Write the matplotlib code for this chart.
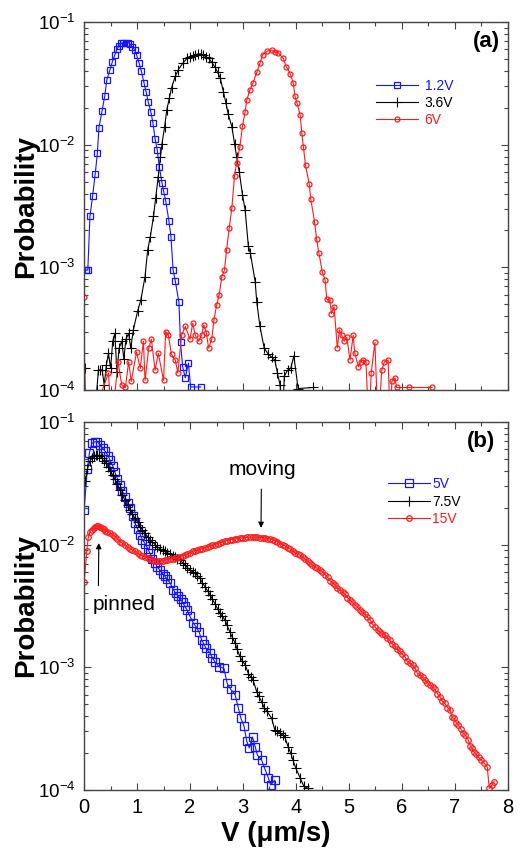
import matplotlib
matplotlib.use("Agg")
import matplotlib.pyplot as plt
from matplotlib.ticker import MultipleLocator, LogLocator

plt.rcParams['font.family'] = ['Liberation Sans', 'DejaVu Sans']
plt.rcParams['mathtext.fontset'] = 'custom'
plt.rcParams['mathtext.rm'] = 'Liberation Sans'
plt.rcParams['mathtext.it'] = 'Liberation Sans:italic'
plt.rcParams['mathtext.bf'] = 'Liberation Sans:bold'

# ---- panel (a) ----
v_a12 = [0.03, 0.07, 0.11, 0.16, 0.21, 0.25, 0.28, 0.34, 0.39, 0.43, 0.49, 0.53, 0.58, 0.62,
         0.66, 0.70, 0.74, 0.79, 0.83, 0.87, 0.91, 0.96, 0.99, 1.04, 1.08, 1.13, 1.17, 1.21,
         1.26, 1.30, 1.34, 1.38, 1.42, 1.47, 1.50, 1.54, 1.60, 1.64, 1.68, 1.72, 1.79, 1.82,
         1.86, 1.91, 1.97, 2.01, 2.20]
p_a12 = [9.5e-4, 9.5e-4, 2.6e-3, 3.8e-3, 5.8e-3, 8.5e-3, 1.38e-2, 1.9e-2, 2.5e-2, 3.4e-2,
         4.1e-2, 4.7e-2, 5.4e-2, 6.0e-2, 6.4e-2, 6.7e-2, 6.8e-2, 6.8e-2, 6.8e-2, 6.6e-2,
         6.3e-2, 5.9e-2, 5.4e-2, 4.6e-2, 4.0e-2, 3.2e-2, 2.7e-2, 2.24e-2, 1.86e-2, 1.5e-2,
         1.12e-2, 9.1e-3, 6.6e-3, 4.9e-3, 4.2e-3, 3.5e-3, 2.4e-3, 1.78e-3, 9.5e-4, 7.8e-4,
         5.2e-4, 2.45e-4, 1.55e-4, 1.26e-4, 1.66e-4, 1.06e-4, 1.06e-4]

v_a36 = [0.01, 0.03, 0.20, 0.24, 0.27, 0.30, 0.34, 0.38, 0.42, 0.46, 0.50, 0.54, 0.58, 0.62,
         0.66, 0.71, 0.75, 0.79, 0.84, 0.88, 0.93, 1.01, 1.07, 1.15, 1.20, 1.25, 1.31, 1.35,
         1.40, 1.44, 1.47, 1.52, 1.56, 1.61, 1.65, 1.72, 1.78, 1.86, 1.94, 2.00, 2.05, 2.10,
         2.15, 2.20, 2.25, 2.30, 2.35, 2.41, 2.47, 2.52, 2.57, 2.63, 2.68, 2.72, 2.79, 2.84,
         2.88, 2.93, 2.99, 3.04, 3.10, 3.14, 3.23, 3.26, 3.32, 3.40, 3.48, 3.54, 3.60, 3.65,
         3.70, 3.74, 3.78, 3.84, 3.90, 3.96, 4.04, 4.33]
p_a36 = [1.5e-4, 5e-5, 5e-5, 1.0e-4, 1.46e-4, 1.46e-4, 1.46e-4, 1.1e-4, 1.6e-4, 2.0e-4,
         1.5e-4, 2.5e-4, 2.9e-4, 1.4e-4, 2.2e-4, 2.5e-4, 1.8e-4, 2.6e-4, 2.9e-4, 2.2e-4,
         3.1e-4, 4.4e-4, 5.4e-4, 8.4e-4, 1.39e-3, 1.78e-3, 2.6e-3, 3.66e-3, 5.5e-3, 7.9e-3,
         1.02e-2, 1.4e-2, 1.92e-2, 2.4e-2, 2.9e-2, 3.6e-2, 4.1e-2, 4.6e-2, 5.05e-2, 5.2e-2,
         5.3e-2, 5.4e-2, 5.5e-2, 5.5e-2, 5.4e-2, 5.2e-2, 5.06e-2, 4.7e-2, 4.3e-2, 3.9e-2,
         3.5e-2, 2.7e-2, 2.17e-2, 1.78e-2, 1.4e-2, 1.02e-2, 7.9e-3, 6.0e-3, 3.9e-3, 2.95e-3,
         1.5e-3, 1.3e-3, 7.6e-4, 5.2e-4, 3.3e-4, 2.2e-4, 1.95e-4, 1.86e-4, 1.76e-4, 1.38e-4,
         1.1e-4, 5e-5, 1.3e-4, 1.45e-4, 1.5e-4, 1.9e-4, 1.03e-4, 1.05e-4]

v_a6 = [0.00, 0.02, 0.46, 0.52, 0.64, 0.71, 0.78, 0.84, 0.89, 0.99, 1.06, 1.12, 1.15, 1.22,
        1.27, 1.34, 1.40, 1.50, 1.54, 1.59, 1.65, 1.72, 1.77, 1.84, 1.91, 2.00, 2.05, 2.10,
        2.16, 2.22, 2.26, 2.31, 2.35, 2.41, 2.45, 2.50, 2.55, 2.60, 2.65, 2.69, 2.74, 2.79,
        2.84, 2.88, 2.94, 2.99, 3.04, 3.07, 3.13, 3.19, 3.26, 3.32, 3.37, 3.46, 3.54, 3.60,
        3.67, 3.76, 3.82, 3.89, 3.95, 3.98, 4.02, 4.08, 4.11, 4.14, 4.18, 4.25, 4.28, 4.35,
        4.39, 4.43, 4.50, 4.55, 4.58, 4.64, 4.67, 4.72, 4.78, 4.82, 4.86, 4.91, 4.96, 5.02,
        5.08, 5.11, 5.18, 5.22, 5.27, 5.32, 5.38, 5.42, 5.49, 5.55, 5.62, 5.67, 5.74, 5.78,
        5.81, 5.87, 5.90, 6.14, 6.57]
p_a6 = [5.7e-4, 4e-5, 1.38e-4, 5e-5, 1.7e-4, 1.1e-4, 1.05e-4, 1.7e-4, 1.18e-4, 2.05e-4,
        1.5e-4, 2.5e-4, 1.2e-4, 2.2e-4, 2.6e-4, 1.45e-4, 2.0e-4, 1.2e-4, 3.0e-4, 2.8e-4,
        1.95e-4, 1.76e-4, 1.38e-4, 2.8e-4, 3.3e-4, 2.6e-4, 3.5e-4, 2.8e-4, 2.5e-4, 2.8e-4,
        3.4e-4, 2.9e-4, 2.2e-4, 2.6e-4, 3.7e-4, 4.9e-4, 6.0e-4, 8.4e-4, 9.5e-4, 1.39e-3,
        2.1e-3, 3.07e-3, 5.6e-3, 7.1e-3, 9.6e-3, 1.42e-2, 1.86e-2, 2.3e-2, 2.8e-2, 3.2e-2,
        3.9e-2, 4.6e-2, 5.4e-2, 5.8e-2, 5.9e-2, 5.7e-2, 5.6e-2, 5.06e-2, 4.3e-2, 3.8e-2,
        3.16e-2, 2.5e-2, 2.17e-2, 1.75e-2, 1.24e-2, 9.6e-3, 6.8e-3, 4.8e-3, 3.6e-3, 2.36e-3,
        1.7e-3, 1.32e-3, 9.1e-4, 7.9e-4, 5.5e-4, 5.4e-4, 4.2e-4, 4.8e-4, 2.2e-4, 3.1e-4,
        2.8e-4, 2.5e-4, 2.7e-4, 1.76e-4, 2.8e-4, 2.0e-4, 1.55e-4, 1.7e-4, 1.76e-4, 1.7e-4,
        5e-5, 1.38e-4, 2.45e-4, 5e-5, 1.45e-4, 1.7e-4, 1.76e-4, 5e-5, 1.18e-4, 1.26e-4,
        1.05e-4, 1.05e-4, 1.05e-4]

# ---- panel (b) ----
v_b5 = [0.00, 0.06, 0.10, 0.145, 0.21, 0.25, 0.30, 0.35, 0.40, 0.45, 0.49, 0.54, 0.58, 0.63,
        0.68, 0.72, 0.77, 0.82, 0.87, 0.92, 0.96, 1.01, 1.06, 1.10, 1.15, 1.20, 1.245, 1.29,
        1.34, 1.38, 1.43, 1.48, 1.53, 1.57, 1.62, 1.685, 1.73, 1.78, 1.82, 1.86, 1.90, 1.94,
        2.00, 2.06, 2.11, 2.17, 2.22, 2.26, 2.30, 2.38, 2.42, 2.47, 2.55, 2.64, 2.70, 2.77,
        2.85, 2.91, 2.96, 3.02, 3.07, 3.12, 3.18, 3.23, 3.27, 3.35, 3.42, 3.48, 3.52, 3.60,
        3.62]
p_b5 = [1.92e-2, 4.1e-2, 5.6e-2, 6.7e-2, 6.9e-2, 6.9e-2, 6.5e-2, 6.1e-2, 5.75e-2, 5.3e-2,
        4.9e-2, 4.4e-2, 3.9e-2, 3.45e-2, 3.07e-2, 2.75e-2, 2.45e-2, 2.2e-2, 2.0e-2, 1.7e-2,
        1.49e-2, 1.35e-2, 1.2e-2, 1.1e-2, 1.02e-2, 9.3e-3, 8.5e-3, 7.7e-3, 7.1e-3, 6.6e-3,
        6.2e-3, 5.8e-3, 5.5e-3, 5.2e-3, 4.9e-3, 4.3e-3, 4.0e-3, 3.8e-3, 3.6e-3, 3.4e-3,
        3.15e-3, 2.95e-3, 2.6e-3, 2.3e-3, 2.15e-3, 1.95e-3, 1.67e-3, 1.55e-3, 1.43e-3,
        1.3e-3, 1.2e-3, 1.11e-3, 1.01e-3, 9.8e-4, 7.4e-4, 6.6e-4, 6.0e-4, 4.7e-4, 3.85e-4,
        3.3e-4, 2.5e-4, 2.2e-4, 2.7e-4, 2.26e-4, 1.93e-4, 1.76e-4, 1.46e-4, 1.25e-4, 1.1e-4,
        1.2e-4, 5e-5]

v_b75 = [0.02, 0.06, 0.11, 0.15, 0.18, 0.22, 0.25, 0.29, 0.33, 0.37, 0.415, 0.45, 0.49, 0.54,
         0.585, 0.63, 0.68, 0.72, 0.77, 0.82, 0.87, 0.91, 0.96, 1.01, 1.06, 1.10, 1.15, 1.20,
         1.245, 1.29, 1.34, 1.38, 1.43, 1.48, 1.53, 1.57, 1.62, 1.67, 1.72, 1.76, 1.81, 1.86,
         1.905, 1.95, 2.00, 2.05, 2.09, 2.14, 2.19, 2.23, 2.28, 2.33, 2.38, 2.42, 2.47, 2.52,
         2.57, 2.61, 2.66, 2.70, 2.75, 2.80, 2.85, 2.89, 2.94, 2.99, 3.04, 3.10, 3.15, 3.19,
         3.26, 3.30, 3.35, 3.40, 3.45, 3.54, 3.60, 3.65, 3.70, 3.75, 3.79, 3.85, 3.90, 3.94,
         4.00, 4.08, 4.15, 4.23]
p_b75 = [3.3e-2, 4.1e-2, 4.8e-2, 5.1e-2, 5.25e-2, 5.35e-2, 5.4e-2, 5.25e-2, 5.1e-2, 4.8e-2,
         4.6e-2, 4.3e-2, 4.0e-2, 3.7e-2, 3.4e-2, 3.1e-2, 2.8e-2, 2.55e-2, 2.3e-2, 2.1e-2,
         1.92e-2, 1.78e-2, 1.64e-2, 1.52e-2, 1.4e-2, 1.32e-2, 1.24e-2, 1.16e-2, 1.1e-2,
         1.05e-2, 1.0e-2, 9.6e-3, 9.3e-3, 9.0e-3, 8.8e-3, 8.6e-3, 8.4e-3, 8.1e-3, 7.9e-3,
         7.7e-3, 7.5e-3, 7.1e-3, 6.8e-3, 6.5e-3, 6.2e-3, 6.0e-3, 5.85e-3, 5.6e-3, 5.3e-3,
         4.9e-3, 4.55e-3, 4.2e-3, 3.9e-3, 3.6e-3, 3.3e-3, 3.0e-3, 2.75e-3, 2.6e-3, 2.43e-3,
         2.2e-3, 1.95e-3, 1.75e-3, 1.58e-3, 1.4e-3, 1.23e-3, 1.12e-3, 1.05e-3, 8.9e-4, 8.3e-4,
         7.9e-4, 6.3e-4, 5.8e-4, 5.25e-4, 4.7e-4, 4.4e-4, 3.85e-4, 3.1e-4, 3.0e-4, 2.9e-4,
         2.8e-4, 2.7e-4, 2.26e-4, 2.0e-4, 1.76e-4, 1.5e-4, 1.25e-4, 1.07e-4, 1.03e-4]

v_b15 = [0.00, 0.05, 0.08, 0.11, 0.145, 0.18, 0.21, 0.24, 0.27, 0.30, 0.33, 0.37, 0.40, 0.44,
         0.49, 0.54, 0.585, 0.63, 0.68, 0.72, 0.77, 0.82, 0.87, 0.91, 0.96, 1.01, 1.06, 1.10,
         1.15, 1.20, 1.245, 1.29, 1.34, 1.38, 1.43, 1.48, 1.53, 1.57, 1.62, 1.67, 1.72, 1.76,
         1.81, 1.86, 1.905, 1.95, 2.00, 2.05, 2.09, 2.14, 2.19, 2.23, 2.28, 2.33, 2.38, 2.42,
         2.47, 2.52, 2.57, 2.61, 2.66, 2.70, 2.75, 2.80, 2.85, 2.89, 2.94, 2.99, 3.04, 3.08,
         3.13, 3.18, 3.23, 3.27, 3.32, 3.37, 3.42, 3.46, 3.51, 3.56, 3.60, 3.65, 3.70, 3.75,
         3.79, 3.84, 3.89, 3.94, 3.98, 4.03, 4.08, 4.13, 4.17, 4.22, 4.26, 4.31, 4.36, 4.40,
         4.45, 4.50, 4.55, 4.60, 4.64, 4.69, 4.74, 4.78, 4.83, 4.88, 4.92, 4.97, 5.02, 5.06,
         5.11, 5.16, 5.21, 5.25, 5.30, 5.35, 5.40, 5.44, 5.49, 5.54, 5.58, 5.63, 5.68, 5.72,
         5.77, 5.82, 5.87, 5.91, 5.96, 6.01, 6.06, 6.10, 6.15, 6.20, 6.25, 6.29, 6.34, 6.39,
         6.43, 6.48, 6.53, 6.58, 6.62, 6.67, 6.72, 6.76, 6.81, 6.86, 6.91, 6.95, 6.98, 7.03,
         7.06, 7.11, 7.16, 7.20, 7.25, 7.29, 7.32, 7.36, 7.40, 7.45, 7.50, 7.55, 7.61, 7.65,
         7.70, 7.74]
p_b15 = [5.0e-3, 8.8e-3, 1.16e-2, 1.27e-2, 1.32e-2, 1.37e-2, 1.4e-2, 1.41e-2, 1.42e-2, 1.39e-2,
         1.36e-2, 1.33e-2, 1.29e-2, 1.27e-2, 1.24e-2, 1.2e-2, 1.16e-2, 1.11e-2, 1.06e-2,
         1.03e-2, 1.0e-2, 9.6e-3, 9.3e-3, 9.0e-3, 8.8e-3, 8.5e-3, 8.2e-3, 8.1e-3, 8.0e-3,
         7.8e-3, 7.6e-3, 7.5e-3, 7.4e-3, 7.35e-3, 7.35e-3, 7.4e-3, 7.5e-3, 7.55e-3, 7.6e-3,
         7.7e-3, 7.8e-3, 7.9e-3, 8.0e-3, 8.1e-3, 8.2e-3, 8.4e-3, 8.6e-3, 8.8e-3, 8.9e-3,
         9.0e-3, 9.2e-3, 9.3e-3, 9.4e-3, 9.6e-3, 9.8e-3, 9.9e-3, 1.0e-2, 1.02e-2, 1.04e-2,
         1.05e-2, 1.07e-2, 1.08e-2, 1.1e-2, 1.1e-2, 1.11e-2, 1.12e-2, 1.13e-2, 1.13e-2,
         1.14e-2, 1.15e-2, 1.15e-2, 1.15e-2, 1.15e-2, 1.15e-2, 1.14e-2, 1.14e-2, 1.13e-2,
         1.12e-2, 1.11e-2, 1.1e-2, 1.08e-2, 1.06e-2, 1.02e-2, 1.0e-2, 9.8e-3, 9.4e-3, 9.2e-3,
         8.9e-3, 8.6e-3, 8.4e-3, 8.2e-3, 7.9e-3, 7.6e-3, 7.3e-3, 7.1e-3, 6.8e-3, 6.6e-3,
         6.4e-3, 6.2e-3, 6.0e-3, 5.7e-3, 5.4e-3, 5.1e-3, 4.9e-3, 4.7e-3, 4.4e-3, 4.3e-3,
         4.1e-3, 3.95e-3, 3.7e-3, 3.55e-3, 3.4e-3, 3.25e-3, 3.1e-3, 2.95e-3, 2.8e-3, 2.7e-3,
         2.55e-3, 2.45e-3, 2.25e-3, 2.15e-3, 2.0e-3, 1.95e-3, 1.88e-3, 1.84e-3, 1.72e-3,
         1.67e-3, 1.55e-3, 1.48e-3, 1.4e-3, 1.35e-3, 1.28e-3, 1.22e-3, 1.12e-3, 1.08e-3,
         1.04e-3, 9.8e-4, 9.0e-4, 8.7e-4, 8.3e-4, 7.9e-4, 7.5e-4, 7.2e-4, 6.9e-4, 6.6e-4,
         6.1e-4, 5.75e-4, 5.3e-4, 5.1e-4, 4.7e-4, 4.5e-4, 3.9e-4, 3.85e-4, 3.5e-4, 3.4e-4,
         3.15e-4, 2.9e-4, 2.8e-4, 2.57e-4, 2.3e-4, 2.2e-4, 2.05e-4, 1.95e-4, 1.85e-4, 1.75e-4,
         1.66e-4, 1.55e-4, 1.03e-4, 1.1e-4, 1.17e-4]

labels_a = ["1.2V", "3.6V", "6V"]
labels_b = ["5V", "7.5V", "15V"]

BLUE = "#1414ff"
RED = "#ff1a1a"


def style_axis(ax):
    ax.set_yscale("log")
    ax.set_xlim(0, 8)
    ax.set_ylim(1e-4, 1e-1)
    ax.xaxis.set_major_locator(MultipleLocator(1))
    ax.xaxis.set_minor_locator(MultipleLocator(0.5))
    ax.yaxis.set_major_locator(LogLocator(base=10))
    ax.yaxis.set_minor_locator(LogLocator(base=10, subs=range(2, 10)))
    ax.tick_params(which="both", direction="in", top=True, right=True,
                   color="#444444", width=0.8)
    ax.tick_params(which="major", length=5, labelsize=14.5, pad=6)
    ax.tick_params(axis="y", which="major", labelsize=13.5, pad=6)
    ax.tick_params(which="minor", length=3)
    for s in ax.spines.values():
        s.set_color("#444444")
        s.set_linewidth(1.0)
    ax.set_ylabel("Probability", fontsize=20, fontweight="bold")
    ax.yaxis.set_label_coords(-0.107, 0.5)


fig = plt.figure(figsize=(5.29, 8.48), dpi=100)
ax1 = fig.add_axes([0.159, 0.540, 0.801, 0.434])
ax2 = fig.add_axes([0.159, 0.0684, 0.801, 0.434])

# panel (a)
ax1.plot(v_a12, p_a12, color=BLUE, lw=0.8, marker="s", ms=5, mfc="none", mec=BLUE,
         mew=0.9, label=labels_a[0])
ax1.plot(v_a36, p_a36, color="black", lw=0.8, marker="+", ms=6.5, mew=0.8,
         label=labels_a[1])
ax1.plot(v_a6, p_a6, color=RED, lw=0.8, marker="o", ms=3.6, mfc="none", mec=RED,
         mew=0.9, label=labels_a[2])
style_axis(ax1)
ax1.tick_params(labelbottom=False)
ax1.text(0.981, 0.948, "(a)", transform=ax1.transAxes, ha="right", va="center",
         fontsize=16, fontweight="bold")
ax1.legend(loc="upper left", bbox_to_anchor=(0.689, 0.845), frameon=False, fontsize=10,
           handlelength=3.0, handletextpad=0.5, labelspacing=0.2, borderpad=0,
           borderaxespad=0, labelcolor="linecolor")

# panel (b)
ax2.plot(v_b5, p_b5, color=BLUE, lw=0.8, marker="s", ms=5.5, mfc="none", mec=BLUE,
         mew=0.9, label=labels_b[0])
ax2.plot(v_b75, p_b75, color="black", lw=0.8, marker="+", ms=6.5, mew=0.8,
         label=labels_b[1])
ax2.plot(v_b15, p_b15, color=RED, lw=0.8, marker="o", ms=4, mfc="none", mec=RED,
         mew=0.9, label=labels_b[2])
style_axis(ax2)
ax2.set_xlabel("V (\u03bcm/s)", fontsize=20, fontweight="bold")
ax2.xaxis.set_label_coords(0.453, -0.085)
ax2.text(0.969, 0.948, "(b)", transform=ax2.transAxes, ha="right", va="center",
         fontsize=16, fontweight="bold")
ax2.legend(loc="upper left", bbox_to_anchor=(0.717, 0.85), frameon=False, fontsize=10,
           handlelength=3.0, handletextpad=0.2, labelspacing=0.25, borderpad=0,
           borderaxespad=0, labelcolor="linecolor")

ax2.annotate("moving", xy=(3.34, 0.0137), xytext=(3.36, 0.0406), ha="center", va="center",
             fontsize=15,
             arrowprops=dict(arrowstyle="-|>", color="black", lw=0.8, mutation_scale=8,
                             relpos=(0.49, 0.0), shrinkA=5, shrinkB=0))
ax2.annotate("pinned", xy=(0.277, 0.0103), xytext=(0.755, 0.00323), ha="center",
             va="center", fontsize=15,
             arrowprops=dict(arrowstyle="-|>", color="black", lw=0.8, mutation_scale=8,
                             relpos=(0.09, 1.0), shrinkA=5, shrinkB=0))

fig.savefig("out.png", dpi=100)
